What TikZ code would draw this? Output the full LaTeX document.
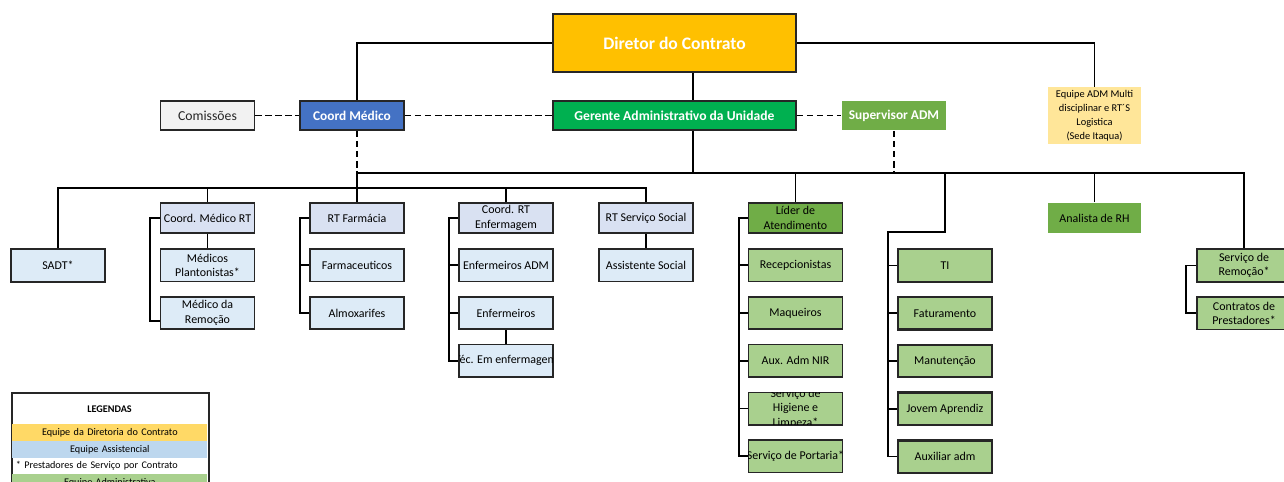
\documentclass[tikz,border=0pt]{standalone}
\usepackage{fontspec}
\setmainfont{Carlito}
\usetikzlibrary{positioning, calc}
\definecolor{dirorange}{HTML}{FFC000}
\definecolor{gergreen}{HTML}{00B050}
\definecolor{medblue}{HTML}{4472C4}
\definecolor{comgray}{HTML}{F2F2F2}
\definecolor{supgreen}{HTML}{70AD47}
\definecolor{equipyellow}{HTML}{FFE699}
\definecolor{cabblue}{HTML}{D9E1F2}
\definecolor{assblue}{HTML}{DDEBF7}
\definecolor{admgreen}{HTML}{A9D08E}
\definecolor{legyellow}{HTML}{FFD966}
\definecolor{legblue}{HTML}{BDD7EE}
\begin{document}
\begin{tikzpicture}[x=0.02cm, y=-0.02cm,
  lvl/.style={draw=black!85, line width=0.9pt, inner sep=1pt, align=center, text=white, font=\bfseries\fontsize{7.6}{9}\selectfont, minimum height=0.58cm},
  cel/.style={draw=black!85, line width=0.9pt, inner sep=1pt, align=center, minimum width=1.88cm, minimum height=0.65cm, font=\fontsize{6.8}{8.3}\selectfont},
  cab/.style={cel, minimum height=0.6cm, fill=cabblue},
  legrow/.style={anchor=north west, minimum height=0.33cm, inner ysep=0pt, inner xsep=2pt, text width=3.9cm-4pt, align=center, font=\fontsize{5.8}{7}\selectfont},
  liga/.style={line width=1pt},
  trac/.style={line width=1pt, dash pattern=on 3.8pt off 1.9pt}]
\useasboundingbox (0,0) rectangle (1284,482);

\node[lvl, fill=dirorange, minimum width=4.86cm, minimum height=1.16cm, font=\bfseries\fontsize{10}{12}\selectfont] (dir) at (674.5,43) {Diretor do Contrato};
\node[lvl, fill=gergreen, minimum width=4.86cm, font=\bfseries\fontsize{7.75}{9}\selectfont] (ger) at (674.5,115.5) {Gerente Administrativo da Unidade};
\node[lvl, fill=medblue, minimum width=2.08cm] (coord_med) at (352,115.5) {Coord Médico};
\node[lvl, fill=comgray, text=black!85, font=\fontsize{7.8}{9}\selectfont, minimum width=1.88cm] (comissoes) at (207.5,115.5) {Comissões};
\node[lvl, draw=none, fill=supgreen, minimum width=2.08cm] (sup) at (894,115.5) {Supervisor ADM};
\node[fill=equipyellow, minimum width=1.86cm, minimum height=1.14cm, align=center, inner sep=1pt, font=\fontsize{5.9}{7.9}\selectfont] (equipe) at (1094.5,115.5) {Equipe ADM Multi\\disciplinar e RT´S\\Logistica\\(Sede Itaqua)};

\node[cel, fill=assblue, line width=1.3pt] (sadt) at (58,265.5) {SADT*};

\node[cab] (med_rt) at (207.5,218) {Coord. Médico RT};
\node[cel, fill=assblue, below=8.2pt of med_rt] (med_plant) {Médicos\\Plantonistas*};
\node[cel, fill=assblue, below=7.8pt of med_plant] (med_rem) {Médico da\\Remoção};

\node[cab, line width=1.3pt] (farm) at (357,218) {RT Farmácia};
\node[cel, fill=assblue, below=8pt of farm] (farmac) {Farmaceuticos};
\node[cel, fill=assblue, below=7.8pt of farmac] (almox) {Almoxarifes};

\node[cab] (enf_rt) at (506,218) {Coord. RT\\Enfermagem};
\node[cel, fill=assblue, below=8.2pt of enf_rt] (enf_adm) {Enfermeiros ADM};
\node[cel, fill=assblue, below=7.8pt of enf_adm] (enf) {Enfermeiros};
\node[cel, fill=assblue, below=7.8pt of enf] (tec) {};
\begin{scope}
\clip ([shift={(0.6pt,-0.6pt)}]tec.north west) rectangle ([shift={(-0.6pt,0.6pt)}]tec.south east);
\node[font=\fontsize{6.8}{8.3}\selectfont] (tec_txt) at (tec) {Téc. Em enfermagem};
\end{scope}

\node[cab] (social) at (646,218) {RT Serviço Social};
\node[cel, fill=assblue, below=8.2pt of social] (assist) {Assistente Social};

\node[cab, fill=supgreen] (lider) at (795.5,218) {Líder de\\Atendimento};
\node[cel, fill=admgreen, below=8.2pt of lider] (recep) {Recepcionistas};
\node[cel, fill=admgreen, below=7.8pt of recep] (maq) {Maqueiros};
\node[cel, fill=admgreen, below=7.8pt of maq] (nir) {Aux. Adm NIR};
\node[cel, fill=admgreen, below=7.8pt of nir] (hig) {};
\node[cel, fill=admgreen, below=7.8pt of hig] (port) {};
\begin{scope}
\clip ([shift={(0.6pt,-0.6pt)}]hig.north west) rectangle ([shift={(-0.6pt,0.6pt)}]hig.south east);
\node[align=center, font=\fontsize{6.8}{8.3}\selectfont] (hig_txt) at (hig) {Serviço de\\Higiene e\\Limpeza*};
\end{scope}
\begin{scope}
\clip ([shift={(0.6pt,-0.6pt)}]port.north west) rectangle ([shift={(-0.6pt,0.6pt)}]port.south east);
\node[font=\fontsize{6.8}{8.3}\selectfont] (port_txt) at (port) {Serviço de Portaria*};
\end{scope}

\node[cel, fill=admgreen, line width=1.3pt] (ti) at (945,265.5) {TI};
\node[cel, fill=admgreen, line width=1.3pt, below=7.4pt of ti] (fatur) {Faturamento};
\node[cel, fill=admgreen, line width=1.3pt, below=7.4pt of fatur] (manut) {Manutenção};
\node[cel, fill=admgreen, line width=1.3pt, below=7.4pt of manut] (jovem) {Jovem Aprendiz};
\node[cel, fill=admgreen, line width=1.3pt, below=7.4pt of jovem] (auxadm) {Auxiliar adm};

\node[cab, draw=none, fill=supgreen, minimum width=1.86cm] (analista) at (1094.5,218) {Analista de RH};

\node[cel, fill=admgreen] (remocao) at (1244,265.5) {Serviço de\\Remoção*};
\node[cel, fill=admgreen, below=7.8pt of remocao] (contratos) {Contratos de\\Prestadores*};

\node[draw=black!85, line width=0.9pt, minimum width=3.94cm, minimum height=2.2cm, anchor=north west, inner sep=0pt] (legenda) at (11,392) {};
\node[font=\bfseries\fontsize{5.8}{7}\selectfont] (leg_tit) at (109.5,409) {LEGENDAS};
\node[legrow, fill=legyellow] (leg_dir) at (12,424) {Equipe da Diretoria do Contrato};
\node[legrow, fill=legblue] (leg_ass) at (12,441) {Equipe Assistencial};
\node[legrow, align=left] (leg_prest) at (12,457) {* Prestadores de Serviço por Contrato};
\node[legrow, fill=admgreen] (leg_adm) at (12,474) {Equipe Administrativa};

\coordinate (tronco) at (693,173);
\coordinate (barra) at (0,188);
\coordinate (ti_dobra) at (888,232);

\draw[liga] (dir.west) -| (coord_med.north -| farm.north);
\draw[liga] (dir.east) -| (equipe.north);
\draw[liga] (dir.south -| tronco) -- (ger.north -| tronco);
\draw[liga] (ger.south -| tronco) -- (tronco);
\draw[trac] (comissoes) -- (coord_med);
\draw[trac] (coord_med) -- (ger);
\draw[trac] (ger) -- (sup);
\draw[trac] (coord_med.south -| farm.north) -- (tronco -| farm.north);
\draw[trac] (sup.south) -- (sup.south |- tronco);
\draw[liga] (tronco -| farm.north) -- (farm.north);
\draw[liga] (tronco -| farm.north) -| (remocao.north);
\draw[liga] (lider.north) -- (lider.north |- tronco);
\draw[liga] (analista.north) -- (analista.north |- tronco);

\draw[liga] (sadt.north) |- (barra -| social.north) -- (social.north);
\foreach \b in {med_rt, enf_rt}
  \draw[liga] (\b.north) -- (\b.north |- barra);

\draw[liga] (med_rt) -- (med_plant);
\draw[liga] (med_rt.west) -- ++(-10,0) |- ([yshift=-4.5pt]med_rem.west);
\draw[liga] (farm.west) -- ++(-9,0) coordinate (farm_bar) |- (almox.west);
\draw[liga] (farmac.west -| farm_bar) -- (farmac.west);
\draw[liga] (enf_rt.west) -- ++(-9,0) coordinate (enf_bar) |- (tec.west);
\foreach \b in {enf_adm, enf}
  \draw[liga] (\b.west -| enf_bar) -- (\b.west);
\draw[liga] (enf) -- (tec);
\draw[liga] (social) -- (assist);
\draw[liga] (lider.west) -- ++(-9,0) coordinate (lider_bar) |- (port.west);
\foreach \b in {recep, maq, nir, hig}
  \draw[liga] (\b.west -| lider_bar) -- (\b.west);
\draw[liga] (ti.north |- tronco) |- (ti_dobra) |- (auxadm.west);
\foreach \b in {ti, fatur, manut, jovem}
  \draw[liga] (\b.west -| ti_dobra) -- (\b.west);
\draw[liga] (remocao.west) -- ++(-10,0) |- (contratos.west);
\end{tikzpicture}
\end{document}
